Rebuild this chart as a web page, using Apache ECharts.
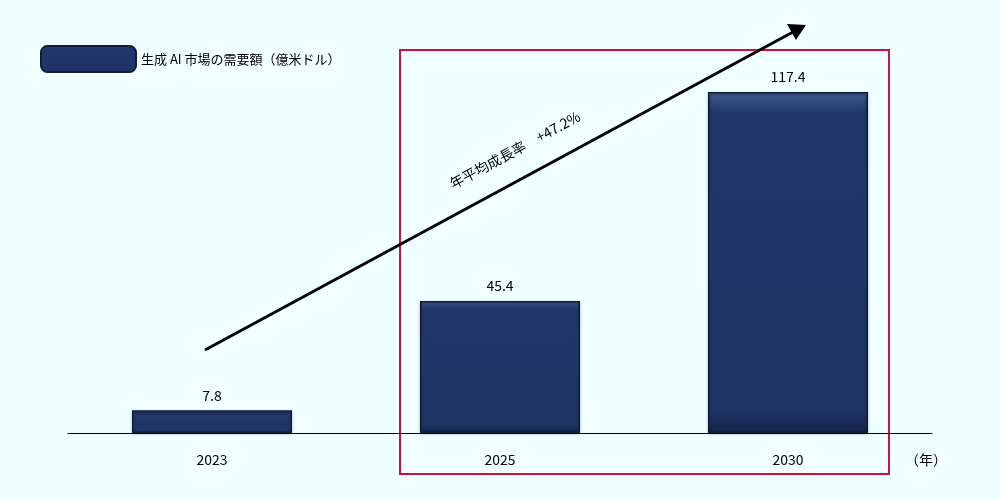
<!DOCTYPE html>
<html><head><meta charset="utf-8">
<script src="https://cdn.jsdelivr.net/npm/echarts@6/dist/echarts.min.js"></script>
<style>html,body{margin:0;background:#F0FFFF}#c{width:1000px;height:500px}</style>
</head><body><div id="c"></div>
<script>
const categories = ['2023','2025','2030'];
const values = [7.8, 45.4, 117.4];
const seriesName = '生成 AI 市場の需要額（億米ドル）';
const cagrLabel = '年平均成長率　+47.2%';
const chart = echarts.init(document.getElementById('c'));
const font = '"Noto Sans CJK JP", sans-serif';
chart.setOption({
  backgroundColor: '#F0FFFF',
  animation: false,
  legend: {left: 35, top: 40, itemWidth: 95, itemHeight: 26, itemGap: 10,
    textStyle: {fontFamily: font, fontSize: 13, color: '#000'}, data: [seriesName]},
  grid: {left: 68, right: 68, top: 26.3, bottom: 67},
  xAxis: {type: 'category', data: categories,
    axisLine: {lineStyle: {color: '#000'}}, axisTick: {show: false},
    axisLabel: {fontFamily: font, fontSize: 14, color: '#000', margin: 20}},
  yAxis: {type: 'value', min: 0, max: 140, show: false, splitLine: {show: false}},
  series: [{
    name: seriesName, type: 'bar', data: values, barWidth: 160,
    itemStyle: {
      color: {type: 'linear', x: 0, y: 0, x2: 0, y2: 1, colorStops: [
        {offset: 0, color: '#3d5a8f'}, {offset: 0.06, color: '#22386b'},
        {offset: 0.94, color: '#1f3364'}, {offset: 1, color: '#15254a'}]},
      borderColor: '#0f1c3a', borderWidth: 1.5,
      shadowColor: 'rgba(0,0,0,0.35)', shadowBlur: 3, shadowOffsetY: 1
    },
    label: {show: true, position: 'top', distance: 8, fontFamily: font, fontSize: 14, color: '#000',
      formatter: p => p.value.toFixed(1)}
  }],
  graphic: [
    {type: 'rect', shape: {x: 400, y: 50, width: 489, height: 424},
     style: {fill: 'none', stroke: '#d0103a', lineWidth: 2}},
    {type: 'line', shape: {x1: 205, y1: 350, x2: 793, y2: 32},
     style: {stroke: '#000', lineWidth: 3}},
    {type: 'polygon', shape: {points: [[806, 25], [787, 24], [796, 40]]},
     style: {fill: '#000'}},
    {type: 'text', x: 515, y: 150, rotation: 28.4 * Math.PI / 180,
     style: {text: cagrLabel, font: '14px ' + font, fill: '#000', align: 'center', verticalAlign: 'middle'}},
    {type: 'text', x: 905, y: 460,
     style: {text: '（年）', font: '14px ' + font, fill: '#000', verticalAlign: 'middle'}}
  ]
});
</script></body></html>
